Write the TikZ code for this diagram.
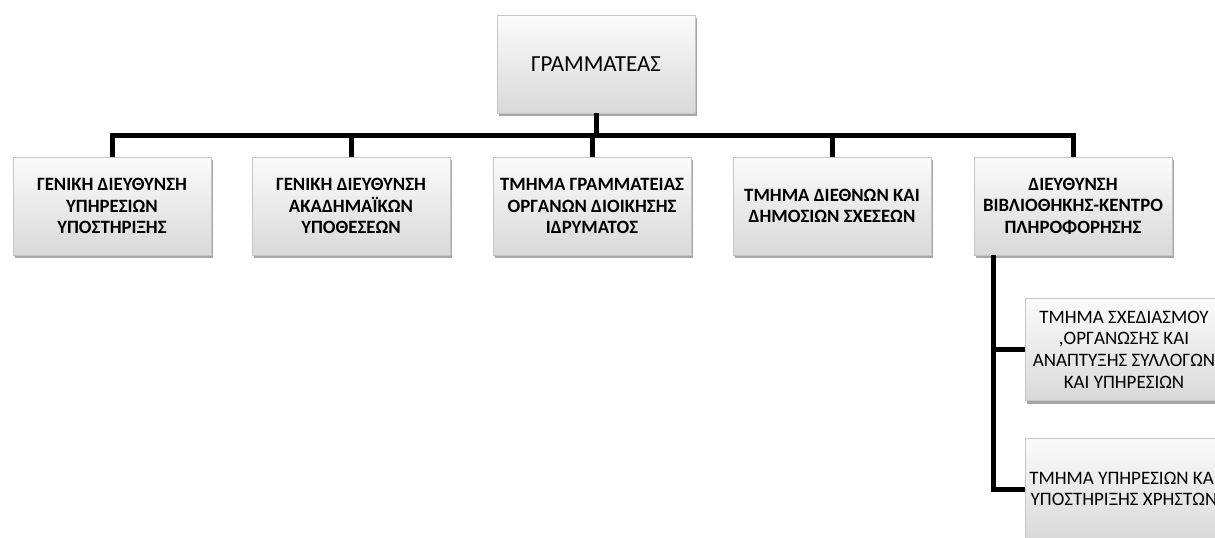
\documentclass[tikz,border=0pt]{standalone}
\usepackage{fontspec}
\setmainfont{Carlito}
\usetikzlibrary{shadows}
\tikzset{
  box/.style={rectangle, draw=gray!45, line width=0.4pt,
    top color=gray!3, bottom color=gray!30,
    drop shadow={shadow xshift=1pt, shadow yshift=-1.5pt, opacity=0.35, fill=black},
    minimum width=99pt, minimum height=49pt, align=center, inner sep=1pt, text=black},
  topbox/.style={box, font=\fontsize{11.5}{14}\selectfont},
  childbox/.style={box, font=\fontsize{9.4}{10.8}\selectfont\bfseries},
  subbox/.style={box, minimum height=51pt, font=\fontsize{9.5}{10.85}\selectfont},
  conn/.style={line width=2.5pt, line join=miter, line cap=butt, black}
}
\begin{document}
\begin{tikzpicture}[x=0.5pt,y=-0.5pt]
\useasboundingbox (0,0) rectangle (1215,537);
\clip (0,0) rectangle (1215,537);
\coordinate (bus) at (0,135.5);
\node[topbox] (top) at (596,64) {ΓΡΑΜΜΑΤΕΑΣ};
\node[childbox] (c1) at (112,206) {ΓΕΝΙΚΗ ΔΙΕΥΘΥΝΣΗ\\ΥΠΗΡΕΣΙΩΝ\\ΥΠΟΣΤΗΡΙΞΗΣ};
\node[childbox] (c2) at (351,206) {ΓΕΝΙΚΗ ΔΙΕΥΘΥΝΣΗ\\ΑΚΑΔΗΜΑΪΚΩΝ\\ΥΠΟΘΕΣΕΩΝ};
\node[childbox] (c3) at (592,206) {ΤΜΗΜΑ ΓΡΑΜΜΑΤΕΙΑΣ\\ΟΡΓΑΝΩΝ ΔΙΟΙΚΗΣΗΣ\\ΙΔΡΥΜΑΤΟΣ};
\node[childbox] (c4) at (832,206) {ΤΜΗΜΑ ΔΙΕΘΝΩΝ ΚΑΙ\\ΔΗΜΟΣΙΩΝ ΣΧΕΣΕΩΝ};
\node[childbox] (c5) at (1073,206) {ΔΙΕΥΘΥΝΣΗ\\ΒΙΒΛΙΟΘΗΚΗΣ-ΚΕΝΤΡΟ\\ΠΛΗΡΟΦΟΡΗΣΗΣ};
\node[subbox] (s1) at (1124,349.5) {ΤΜΗΜΑ ΣΧΕΔΙΑΣΜΟΥ\\,ΟΡΓΑΝΩΣΗΣ ΚΑΙ\\ΑΝΑΠΤΥΞΗΣ ΣΥΛΛΟΓΩΝ\\ΚΑΙ ΥΠΗΡΕΣΙΩΝ};
\node[subbox] (s2) at (1124,489) {ΤΜΗΜΑ ΥΠΗΡΕΣΙΩΝ ΚΑΙ\\ΥΠΟΣΤΗΡΙΞΗΣ ΧΡΗΣΤΩΝ};
\draw[conn] (top.south) -- (top.south |- bus);
\draw[conn] (c1.north) -- (c1.north |- bus) -- (c5.north |- bus) -- (c5.north);
\draw[conn] (c2.north) -- (c2.north |- bus);
\draw[conn] (c3.north) -- (c3.north |- bus);
\draw[conn] (c4.north) -- (c4.north |- bus);
\coordinate (tap) at ([xshift=10pt]c5.south west);
\draw[conn] (tap) |- (s2.west);
\draw[conn] (tap |- s1.west) -- (s1.west);
\end{tikzpicture}
\end{document}
